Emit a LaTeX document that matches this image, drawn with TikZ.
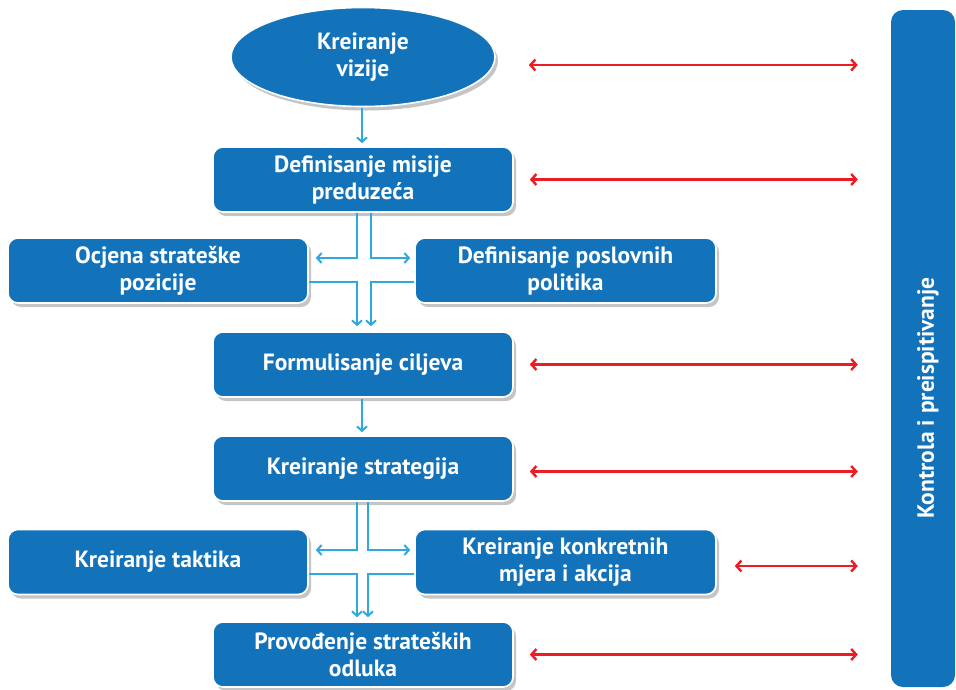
\documentclass[tikz,border=0pt]{standalone}
\usepackage{fontspec}
\setmainfont{PT Sans}
\usetikzlibrary{arrows.meta,shapes.geometric,shadows,calc}
\definecolor{boxblue}{HTML}{1273BA}
\definecolor{linkblue}{HTML}{2EA8DF}
\definecolor{ctrlred}{HTML}{EC1C24}
\begin{document}
\begin{tikzpicture}[x=1pt,y=-1pt,
  softshadow/.style={drop shadow={shadow xshift=3pt,shadow yshift=-4pt,opacity=0.32,fill=black!70}},
  stepbox/.style={draw=white,line width=1.6pt,fill=boxblue,rounded corners=10pt,
    minimum width=300pt,minimum height=65pt,inner sep=0pt,text=white,align=center,
    font=\bfseries\fontsize{23.5}{27}\selectfont,softshadow},
  visionbox/.style={stepbox,ellipse,rounded corners=0pt,minimum width=264pt,minimum height=99pt},
  ctrlbar/.style={fill=boxblue,rounded corners=12pt,minimum width=64pt,minimum height=677pt,inner sep=0pt},
  link/.style={draw=linkblue,line width=2.2pt,-{Straight Barb[length=4.5pt,width=10pt,line width=2pt]}},
  ctrl/.style={draw=ctrlred,line width=2.6pt,{Straight Barb[length=5pt,width=11pt,line width=2.4pt]}-{Straight Barb[length=5pt,width=11pt,line width=2.4pt]}}]
\useasboundingbox (0,0) rectangle (956,689);

% control bar on the right
\node[ctrlbar] (control) at (923,348.5) {};
\node[text=white,rotate=90,font=\bfseries\fontsize{23.5}{27}\selectfont] (controltext) at (928,398) {Kontrola i preispitivanje};

% main chain
\node[visionbox] (vision) at (363,57) {Kreiranje\\vizije};
\node[stepbox] (mission) at (363,179.5) {Definisanje misije\\preduzeća};
\node[stepbox] (assess) at (158,270.5) {Ocjena strateške\\pozicije};
\node[stepbox,minimum width=301pt] (policy) at (565.5,270.5) {Definisanje poslovnih\\politika};
\node[stepbox] (goals) at (363,364.5) {Formulisanje ciljeva};
\node[stepbox] (strategy) at (363,468.5) {Kreiranje strategija};
\node[stepbox] (tactics) at (158,562) {Kreiranje taktika};
\node[stepbox,minimum width=301pt] (measures) at (565.5,562) {Kreiranje konkretnih\\mjera i akcija};
\node[stepbox] (decisions) at (363,654.5) {Provođenje strateških\\odluka};

% vertical links
\draw[link,shorten <=1pt,shorten >=3pt] ([xshift=-1pt]vision.south) -- ([xshift=-1pt]mission.north);
\draw[link,shorten <=1pt,shorten >=3pt] ([xshift=-1pt]goals.south) -- ([xshift=-1pt]strategy.north);

% first cross: mission -> side boxes -> goals
\draw[link,shorten >=7pt] ([xshift=-6pt]mission.south) |- ([yshift=12.5pt]assess.east);
\draw[link,shorten >=4pt] ([xshift=8pt]mission.south) |- ([yshift=12.5pt]policy.west);
\draw[link,shorten >=5pt] ([yshift=-11.5pt]assess.east) -| ([xshift=-6pt]goals.north);
\draw[link,shorten >=5pt] ([yshift=-11.5pt]policy.west) -| ([xshift=8pt]goals.north);

% second cross: strategy -> side boxes -> decisions
\draw[link,shorten >=7pt] ([xshift=-6pt]strategy.south) |- ([yshift=12pt]tactics.east);
\draw[link,shorten >=4pt] ([xshift=5pt]strategy.south) |- ([yshift=12pt]measures.west);
\draw[link,shorten >=4pt] ([yshift=-12pt]tactics.east) -| ([xshift=-6pt]decisions.north);
\draw[link,shorten >=4pt] ([yshift=-12pt]measures.west) -| ([xshift=5pt]decisions.north);

% control feedback arrows
\draw[ctrl,shorten <=33pt,shorten >=33pt] ([yshift=-8pt]vision.east) -- ([yshift=-8pt]vision.east -| control.west);
\draw[ctrl,shorten <=16pt,shorten >=33pt] (mission.east) -- (mission.east -| control.west);
\draw[ctrl,shorten <=16pt,shorten >=33pt] (goals.east) -- (goals.east -| control.west);
\draw[ctrl,shorten <=16pt,shorten >=33pt] ([yshift=-3pt]strategy.east) -- ([yshift=-3pt]strategy.east -| control.west);
\draw[ctrl,shorten <=18pt,shorten >=33pt] ([yshift=-4pt]measures.east) -- ([yshift=-4pt]measures.east -| control.west);
\draw[ctrl,shorten <=16pt,shorten >=33pt] (decisions.east) -- (decisions.east -| control.west);
\end{tikzpicture}
\end{document}
